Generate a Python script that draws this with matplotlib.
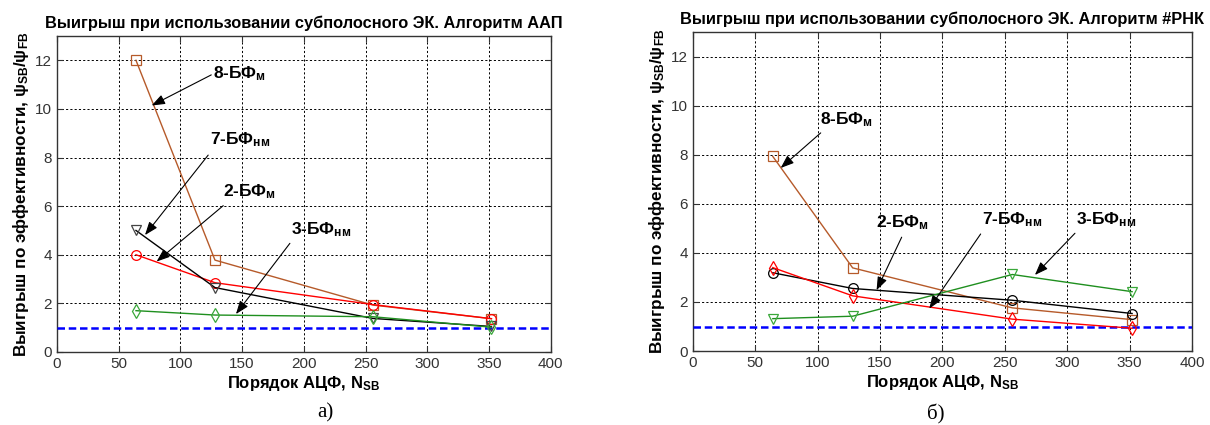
import matplotlib
matplotlib.use("Agg")
import matplotlib.pyplot as plt

plt.rcParams['font.family'] = ['Liberation Sans', 'DejaVu Sans']
plt.rcParams['mathtext.fontset'] = 'custom'
plt.rcParams['mathtext.rm'] = 'Liberation Sans:bold'
plt.rcParams['mathtext.bf'] = 'Liberation Sans:bold'
plt.rcParams['mathtext.it'] = 'Liberation Sans:bold'

# --- data: panel a (ААП) ---
n_sb = [64, 128, 256, 352]
a_bf8m = [12.0, 3.78, 1.93, 1.37]
a_bf2m = [4.0, 2.85, 1.95, 1.37]
a_bf7nm = [5.0, 2.65, 1.38, 1.05]
a_bf3nm = [1.7, 1.52, 1.45, 1.02]

# --- data: panel b (#РНК) ---
b_bf8m = [7.93, 3.39, 1.76, 1.28]
b_bf2m = [3.19, 2.55, 2.07, 1.53]
b_bf7nm = [3.4, 2.25, 1.3, 0.93]
b_bf3nm = [1.32, 1.42, 3.12, 2.42]

ref_level = 1.0

BROWN = '#b65a2a'
GREEN = '#1f8f1f'

TICK_FONT = ['Liberation Sans Narrow', 'Liberation Sans', 'DejaVu Sans']


def setup_axes(ax, title):
    ax.set_xlim(0, 400)
    ax.set_ylim(0, 13)
    ax.set_xticks(range(0, 401, 50))
    ax.set_yticks(range(0, 13, 2))
    ax.grid(True, color='black', linestyle=(0, (2.2, 2.2)), linewidth=0.7)
    ax.tick_params(direction='in', top=True, right=True, length=4,
                   labelsize=11, labelcolor='#333333', color='#333333')
    for lab in ax.get_xticklabels() + ax.get_yticklabels():
        lab.set_family(TICK_FONT)
    for sp in ax.spines.values():
        sp.set_color('#333333')
        sp.set_linewidth(1.0)
    ax.set_title(title, fontsize=11.8, fontweight='bold', pad=6)
    ax.set_xlabel(r'Порядок АЦФ, N$_\mathregular{SB}$', fontsize=12,
                  fontweight='bold', labelpad=2)
    ax.set_ylabel(r'Выигрыш по эффективности, ψ$_\mathregular{SB}$/ψ$_\mathregular{FB}$',
                  fontsize=12.3, fontweight='bold', labelpad=3)
    ax.axhline(ref_level, color='#0000ff', linestyle=(0, (3, 1.5)), linewidth=1.8, zorder=3)


def series(ax, y, color, marker, lcolor=None, mcolor=None):
    ax.plot(n_sb, y, color=lcolor or color, linewidth=1.0, marker=marker,
            markersize=7, markerfacecolor='none',
            markeredgecolor=mcolor or color, markeredgewidth=0.9, zorder=4)


def note(ax, text, xy_text, xy_tail, xy_tip):
    ax.text(xy_text[0], xy_text[1], text, fontsize=12.5, fontweight='bold',
            ha='left', va='center', zorder=6)
    ax.annotate('', xy=xy_tip, xytext=xy_tail,
                arrowprops=dict(arrowstyle='-|>,head_length=0.8,head_width=0.3',
                                color='black', linewidth=0.8, shrinkA=0, shrinkB=0),
                zorder=6)


fig = plt.figure(figsize=(12.1, 4.25), dpi=100)
ax1 = fig.add_axes([0.0471, 0.1718, 0.408, 0.7435])
ax2 = fig.add_axes([0.5727, 0.174, 0.4124, 0.7506])

# panel a
setup_axes(ax1, 'Выигрыш при использовании субполосного ЭК. Алгоритм ААП')
series(ax1, a_bf8m, BROWN, 's')
series(ax1, a_bf2m, 'red', 'o')
series(ax1, a_bf7nm, 'black', 'v', mcolor='#444444')
series(ax1, a_bf3nm, GREEN, 'd', mcolor='#3aa83a')
note(ax1, r'8-БФ$_\mathregular{м}$', (126, 11.47), (125, 11.4), (76.7, 10.14))
note(ax1, r'7-БФ$_\mathregular{нм}$', (124, 8.72), (122.5, 8.1), (71.3, 4.81))
note(ax1, r'2-БФ$_\mathregular{м}$', (134.7, 6.6), (134.7, 6.02), (80.7, 3.72))
note(ax1, r'3-БФ$_\mathregular{нм}$', (190, 5.05), (188.7, 4.47), (145, 1.56))

# panel b
setup_axes(ax2, 'Выигрыш при использовании субполосного ЭК. Алгоритм #РНК')
series(ax2, b_bf8m, BROWN, 's')
series(ax2, b_bf2m, 'black', 'o')
series(ax2, b_bf7nm, 'red', 'd')
series(ax2, b_bf3nm, GREEN, 'v', mcolor='#3aa83a')
note(ax2, r'8-БФ$_\mathregular{м}$', (101.8, 9.44), (102.4, 8.89), (70.3, 7.46))
note(ax2, r'2-БФ$_\mathregular{м}$', (146.7, 5.24), (167.3, 4.64), (147.2, 2.48))
note(ax2, r'7-БФ$_\mathregular{нм}$', (231.4, 5.35), (230.6, 4.77), (189.4, 1.73))
note(ax2, r'3-БФ$_\mathregular{нм}$', (307, 5.35), (306.2, 4.8), (274.1, 3.1))

fig.text(325 / 1210, 1 - 413 / 425, 'а)', family=['Liberation Serif', 'DejaVu Serif'],
         fontsize=15, ha='center', va='center')
fig.text(936 / 1210, 1 - 414 / 425, 'б)', family=['Liberation Serif', 'DejaVu Serif'],
         fontsize=15, ha='center', va='center')

fig.savefig('out.png', dpi=100)
